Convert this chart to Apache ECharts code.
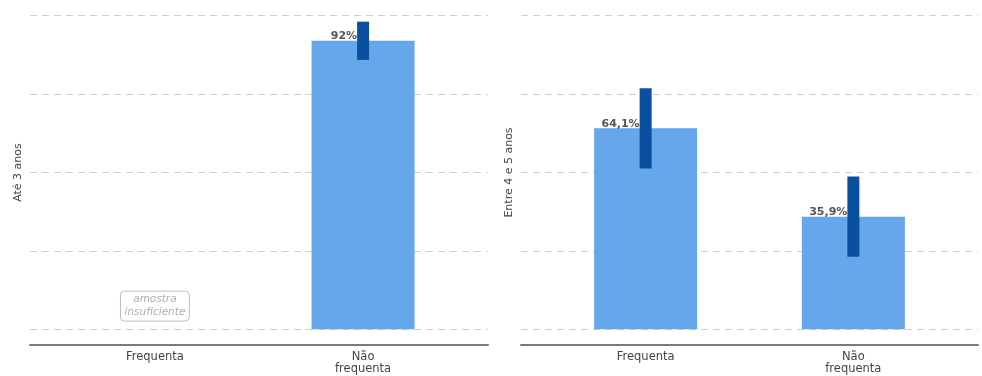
<!DOCTYPE html>
<html>
<head>
<meta charset="utf-8">
<script src="https://cdn.jsdelivr.net/npm/echarts@6/dist/echarts.min.js"></script>
<style>
html,body{margin:0;padding:0;background:#fff;}
#c{width:982px;height:376px;}
</style>
</head>
<body>
<div id="c"></div>
<script>
const categories = ['Frequenta', 'Não\nfrequenta'];
const panelNames = ['Até 3 anos', 'Entre 4 e 5 anos'];
const yTicks = [0, 25, 50, 75, 100];

// Panel 1: Até 3 anos
const valuesAte3 = [null, 92];
const lowerAte3 = [null, 85.9];
const upperAte3 = [null, 98.1];
const labelsAte3 = ['', '92%'];
const insufficientAte3 = [true, false];

// Panel 2: Entre 4 e 5 anos
const values45 = [64.1, 35.9];
const lower45 = [51.3, 23.1];
const upper45 = [76.9, 48.7];
const labels45 = ['64,1%', '35,9%'];
const insufficient45 = [false, false];

const FONT = '"DejaVu Sans", sans-serif';
const panels = [
  {values: valuesAte3, lower: lowerAte3, upper: upperAte3, labels: labelsAte3, insufficient: insufficientAte3},
  {values: values45, lower: lower45, upper: upper45, labels: labels45, insufficient: insufficient45}
];

const chart = echarts.init(document.getElementById('c'), null, {renderer: 'canvas'});

const grids = [
  {left: 30, width: 458, top: 0, bottom: 31},
  {left: 521, right: 4, top: 0, bottom: 31}
];

const xAxes = panels.map((p, i) => ({
  type: 'value', gridIndex: i, min: 0.4, max: 2.6,
  splitLine: {show: false},
  axisTick: {show: false},
  axisLine: {show: true, onZero: false, lineStyle: {color: '#7a7a7a', width: 2}},
  axisLabel: {
    customValues: [1, 2],
    formatter: v => categories[Math.round(v) - 1],
    color: '#444', fontFamily: FONT, fontSize: 11.5, lineHeight: 12, margin: 6
  }
}));

const yAxes = panels.map((p, i) => ({
  type: 'value', gridIndex: i, min: -5, max: 105,
  name: panelNames[i], nameLocation: 'middle', nameRotate: 90, nameGap: 6,
  nameTextStyle: {color: '#444', fontFamily: FONT, fontSize: 11},
  axisLine: {show: false},
  axisTick: {show: false, customValues: yTicks},
  axisLabel: {show: false, customValues: yTicks},
  splitLine: {show: true, lineStyle: {color: '#cfcfcf', width: 1, type: [7, 5]}}
}));

const series = [];
panels.forEach((p, i) => {
  const barData = [], errData = [], labData = [], noteData = [];
  categories.forEach((c, k) => {
    const x = k + 1;
    if (p.values[k] != null) {
      barData.push([x, p.values[k]]);
      errData.push([x, p.lower[k], p.upper[k]]);
      labData.push([x, p.values[k], p.labels[k]]);
    }
    if (p.insufficient[k]) noteData.push([x, 7.4]);
  });
  series.push({
    type: 'bar', xAxisIndex: i, yAxisIndex: i, data: barData,
    barWidth: 103, itemStyle: {color: '#66a6ea'}, silent: true, z: 2
  });
  series.push({
    type: 'custom', xAxisIndex: i, yAxisIndex: i, data: errData, z: 4,
    renderItem: (params, api) => {
      const x = api.value(0);
      const lo = api.coord([x, api.value(1)]);
      const hi = api.coord([x, api.value(2)]);
      return {type: 'rect', shape: {x: hi[0] - 6, y: hi[1], width: 12, height: lo[1] - hi[1]},
        style: {fill: '#0b4fa0'}};
    }
  });
  series.push({
    type: 'custom', xAxisIndex: i, yAxisIndex: i, data: labData, z: 3,
    renderItem: (params, api) => {
      const pt = api.coord([api.value(0), api.value(1)]);
      return {type: 'text', x: pt[0] - 6, y: pt[1] + 1,
        style: {text: labData[params.dataIndex][2], fill: '#555', font: 'bold 11px ' + FONT,
          align: 'right', verticalAlign: 'bottom'}};
    }
  });
  if (noteData.length) {
    series.push({
      type: 'scatter', xAxisIndex: i, yAxisIndex: i, data: noteData, symbolSize: 1,
      itemStyle: {color: 'rgba(0,0,0,0)'},
      label: {show: true, position: 'inside', formatter: 'amostra\ninsuficiente',
        fontStyle: 'italic', color: '#999', fontFamily: FONT, fontSize: 10.5, lineHeight: 13,
        borderColor: '#aaa', borderWidth: 1, borderRadius: 4, padding: [2, 4]}
    });
  }
});

chart.setOption({
  animation: false,
  grid: grids,
  xAxis: xAxes,
  yAxis: yAxes,
  series: series
});
</script>
</body>
</html>
